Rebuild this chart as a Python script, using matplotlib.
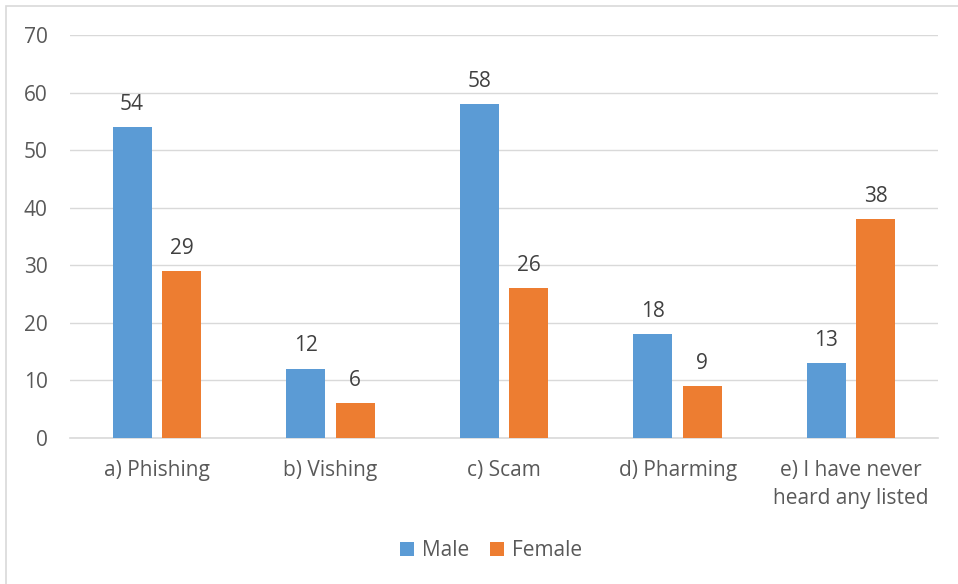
import matplotlib
matplotlib.use("Agg")
import matplotlib.pyplot as plt
import numpy as np
from matplotlib.patches import Rectangle

categories = ["a) Phishing", "b) Vishing", "c) Scam", "d) Pharming", "e) I have never\nheard any listed"]
male = [54, 12, 58, 18, 13]
female = [29, 6, 26, 9, 38]

BLUE, ORANGE, TXT, GRID = "#5b9bd5", "#ed7d31", "#595959", "#d9d9d9"
plt.rcParams["font.family"] = ["Open Sans", "DejaVu Sans"]
FS = 15

fig = plt.figure(figsize=(9.58, 5.84), dpi=100)
fig.patches.append(Rectangle((6 / 958, -0.01), 1.0, 1 - 6 / 584 + 0.01, transform=fig.transFigure,
                             fill=False, edgecolor=GRID, linewidth=1.2))
ax = fig.add_axes([70 / 958, 1 - 438 / 584, 868 / 958, 403 / 584])

x = np.arange(len(categories))
bw, gap = 0.225, 0.06
b1 = ax.bar(x - (bw + gap) / 2, male, bw, color=BLUE, label="Male", zorder=3)
b2 = ax.bar(x + (bw + gap) / 2, female, bw, color=ORANGE, label="Female", zorder=3)
for bars in (b1, b2):
    ax.bar_label(bars, padding=9, fontsize=FS, color="#404040")

ax.set_xlim(-0.5, len(categories) - 0.5)
ax.set_ylim(0, 70)
ax.set_yticks(range(0, 71, 10))
ax.yaxis.grid(True, color=GRID, linewidth=1, zorder=0)
ax.set_xticks(x)
ax.set_xticklabels(categories, fontsize=FS, color=TXT, linespacing=1.4)
ax.tick_params(axis="y", labelsize=FS, labelcolor=TXT, length=0, pad=16)
ax.tick_params(axis="x", length=0, pad=16)
for s in ["top", "right", "left"]:
    ax.spines[s].set_visible(False)
ax.spines["bottom"].set_color(GRID)
ax.spines["bottom"].set_linewidth(1.2)

fig.legend(loc="center", bbox_to_anchor=(491 / 958, 1 - 551 / 584), ncol=2, frameon=False, fontsize=FS,
           labelcolor=TXT, handlelength=0.65, handleheight=0.65, handletextpad=0.4, columnspacing=1.0)

fig.savefig("out.png", dpi=100, facecolor="white")
